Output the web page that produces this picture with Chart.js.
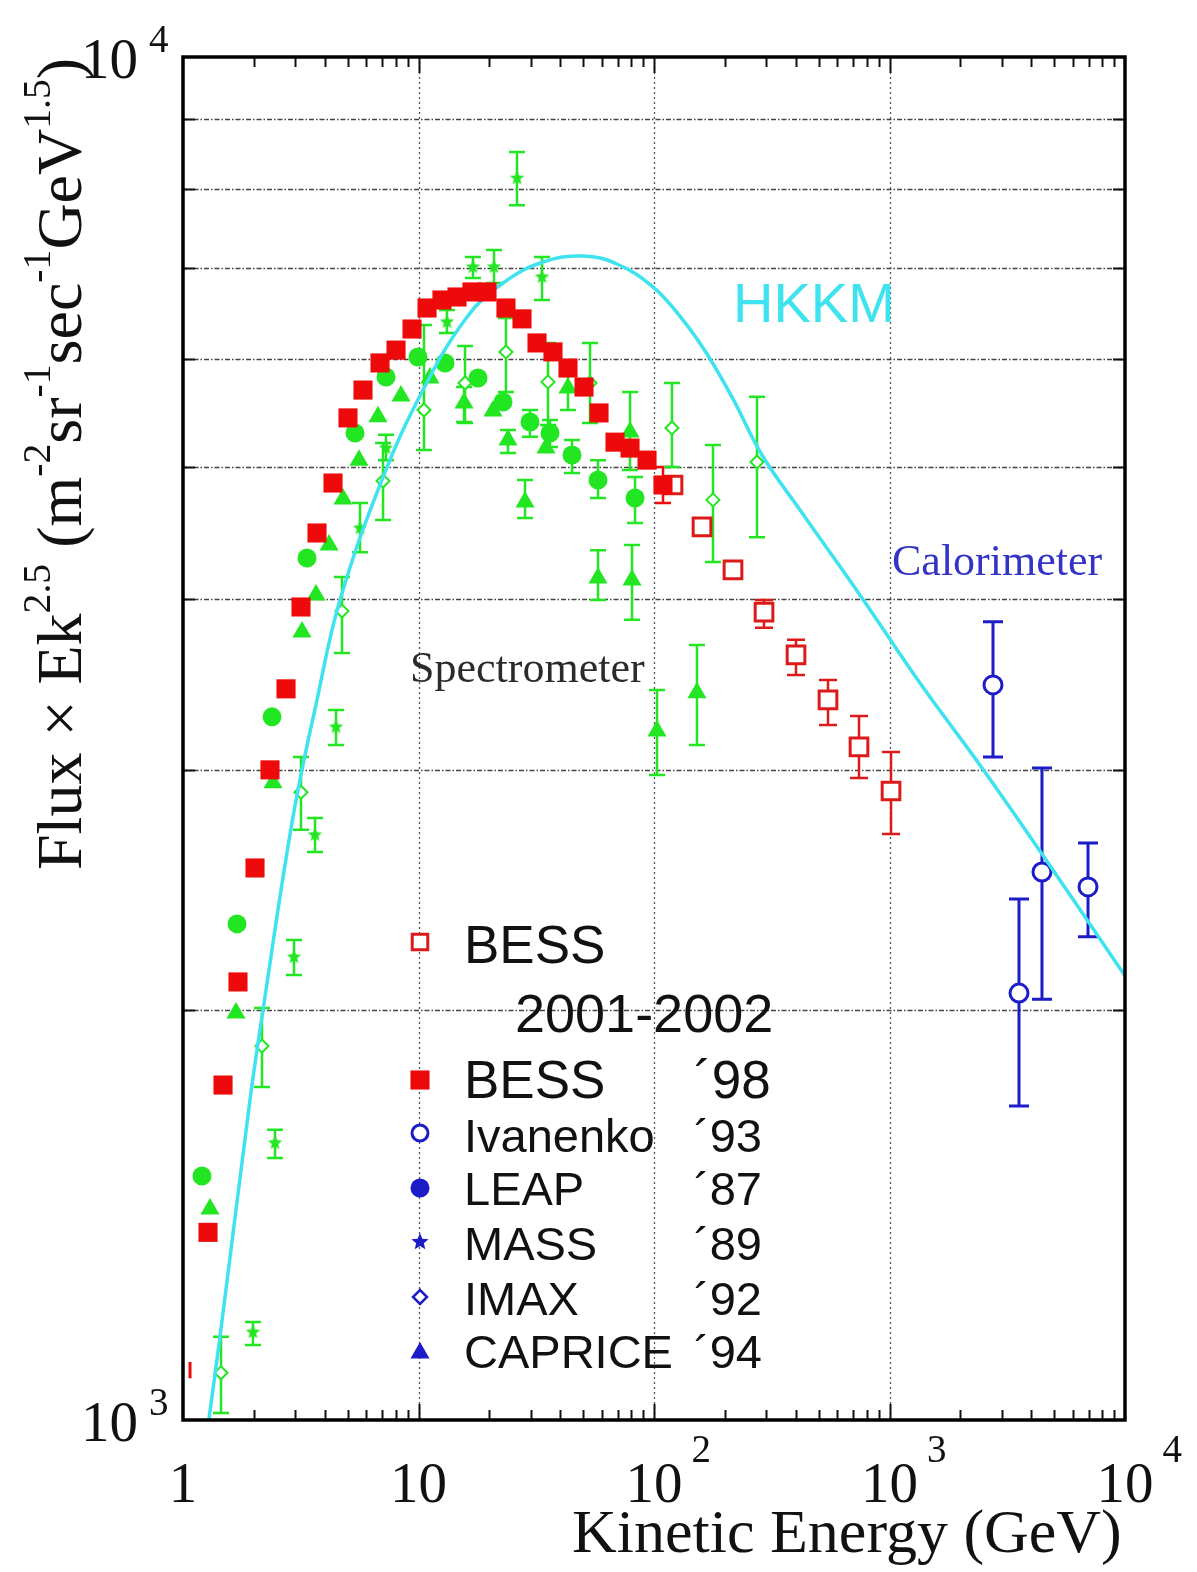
<!DOCTYPE html>
<html><head><meta charset="utf-8">
<script src="https://cdn.jsdelivr.net/npm/chart.js@4.4.1/dist/chart.umd.min.js"></script>
<style>
html,body{margin:0;padding:0;background:#fff;}
#wrap{position:relative;width:1197px;height:1572px;overflow:hidden;background:#fff;}
#c{position:absolute;left:0;top:0;}
.t{position:absolute;white-space:nowrap;line-height:1;}
.serif{font-family:"Liberation Serif","Times New Roman",serif;}
.sans{font-family:"Liberation Sans",Arial,sans-serif;}
.sup{font-size:0.62em;position:relative;top:-0.78em;}
</style></head><body>
<div id="wrap"><canvas id="c" width="1197" height="1572"></canvas></div>
<script>
// ---------------- data ----------------
const xTickValues = [1, 10, 100, 1000, 10000];
const xTickBase   = ['1', '10', '10', '10', '10'];
const xTickExp    = ['', '', '2', '3', '4'];
const yTickValues = [1000, 10000];
const yTickBase   = ['10', '10'];
const yTickExp    = ['3', '4'];
const xGridValues = [10, 100, 1000];
const yGridValues = [2000, 3000, 4000, 5000, 6000, 7000, 8000, 9000];

// HKKM calculation
const hkkmE = [1.289,1.436,1.925,2.186,2.932,3.707,4.642,7.07,10.45,16.07,22.85,33.78,49.95,69.65,99.0,132.8,167.9,216.5,287.4,416.9,764.0,1347,2471,4441,10000];
const hkkmF = [1002,1151,1717,1999,2770,3376,3996,4918,5697,6446,6826,7073,7145,7049,6781,6412,6055,5612,5105,4652,4010,3473,3009,2602,2118];

// BESS '98 (filled squares)
const bess98E = [1.277,1.479,1.712,2.022,2.341,2.738,3.170,3.707,4.335,5.019,5.812,6.864,8.027,9.385,10.87,12.58,14.57,16.87,19.54,23.52,27.51,31.86,37.25,43.13,50.44,58.42,68.30,79.1,93.4,109.2];
const bess98F = [1373,1761,2096,2541,2999,3439,3949,4475,4869,5435,5697,5964,6095,6316,6544,6633,6667,6724,6724,6544,6425,6169,6076,5913,5726,5481,5217,5165,5061,4853];
const bess98Lo = [null,null,null,null,null,null,null,null,null,null,null,null,null,null,null,null,null,null,null,null,null,null,null,null,null,null,null,null,null,4708];
const bess98Hi = [null,null,null,null,null,null,null,null,null,null,null,null,null,null,null,null,null,null,null,null,null,null,null,null,null,null,null,null,null,5003];
const bess98LowE = [1.071];
const bess98LowF = [1088];
const bess98LowLo = [1073];
const bess98LowHi = [1103];

// BESS 2001-2002 (open squares)
const bess01E = [120.4,159.9,216.5,293.2,400.9,548.1,742.1,1015];
const bess01F = [4853,4521,4204,3915,3642,3376,3118,2894];
const bess01Lo = [null,null,4147,3813,3521,3235,2958,2691];
const bess01Hi = [null,null,4261,3996,3736,3491,3285,3091];

// Ivanenko '93 calorimeter (open circles)
const caloE = [2751,3547,4441,6965];
const caloF = [3462,2057,2524,2461];
const caloLo = [3065,1700,2036,2262];
const caloHi = [3851,2411,3009,2651];

// LEAP '87
const leapE = [1.204,1.696,2.388,3.361,5.375,7.278,9.952,12.96,17.89,22.85,29.75,36.18,44.85,57.84,83.07];
const leapF = [1510,2312,3280,4290,5299,5824,6025,5964,5815,5584,5398,5299,5105,4894,4748];
const leapLo = [null,null,null,null,null,null,null,null,null,null,5264,5174,4952,4748,4551];
const leapHi = [null,null,null,null,null,null,null,null,null,null,5508,5416,5236,5061,4918];

// CAPRICE '94
const capE = [1.302,1.679,2.411,3.201,3.671,4.169,4.779,5.589,6.730,8.426,11.19,15.61,20.72,23.99,28.33,34.78,43.13,57.84,79.1,80.67,103.0,152.2];
const capF = [1428,1989,2934,3786,4030,4385,4739,5061,5445,5641,5815,5574,5500,5236,4716,5165,5717,4147,5308,4133,3202,3416];
const capLo = [null,null,null,null,null,null,null,null,null,null,null,5398,null,5122,4590,null,5508,3996,4977,3864,2973,3128];
const capHi = [null,null,null,null,null,null,null,null,null,null,null,5726,null,5325,4894,null,5923,4347,5679,4385,3433,3704];

// MASS '89
const massE = [1.982,2.459,2.960,3.635,4.464,5.645,7.278,13.21,17.03,20.92,26.20,33.45];
const massF = [1160,1597,2186,2687,3224,4512,5165,6392,7014,7014,8149,6896];
const massLo = [1135,1557,2121,2610,3128,4332,5061,6274,6885,6826,7785,6633];
const massHi = [1180,1633,2250,2765,3318,4708,5282,6523,7133,7218,8517,7133];

// IMAX '92
const imaxE = [1.450,2.165,3.170,4.733,7.07,10.55,15.76,23.52,35.47,53.48,119.2,178.0,273.8];
const imaxF = [1083,1881,2888,3922,4885,5508,5765,6076,5776,5765,5344,4732,5045];
const imaxLo = [1012,1755,2710,3654,4574,5148,5389,5679,5370,5389,5003,4261,4443];
const imaxHi = [1151,2006,3065,4154,5209,6359,6138,6435,6169,6169,5765,5191,5632];

// legend
const legendNames = ['BESS','BESS','Ivanenko','LEAP','MASS','IMAX','CAPRICE'];
const legendYears = ['','\u00B498','\u00B493','\u00B487','\u00B489','\u00B492','\u00B494'];
const legendSubLine = '2001-2002';

// ---------------- styles ----------------
const RED = '#ee0a0a', RED2 = '#dd1a1a', GREEN = '#22e622', BLUE = '#1c1cc8', CYAN = '#3fe2ef';
const SERIF = '"Liberation Serif","Times New Roman",serif';
const SANS = '"Liberation Sans",Arial,sans-serif';
const wrap = document.getElementById('wrap');

function makeStar(color, r){
  const s = Math.ceil(2*r+2), c = document.createElement('canvas');
  c.width = s; c.height = s;
  const g = c.getContext('2d'); g.fillStyle = color; g.beginPath();
  for(let k=0;k<10;k++){ const rr = k%2 ? r*0.45 : r; const a = -Math.PI/2 + k*Math.PI/5;
    g.lineTo(s/2 + rr*Math.cos(a), s/2 + rr*Math.sin(a)); }
  g.closePath(); g.fill(); return c;
}
const starGreen = makeStar(GREEN, 7.5);
const starBlue = makeStar(BLUE, 9);

const mk = (E,F) => E.map((e,i) => ({x:e, y:F[i]}));

function addText(html, cls, size, left, baseline, color){
  const k = cls==='serif' ? 0.8374 : 0.8467;
  const d = document.createElement('div');
  d.className = 't ' + cls; d.style.fontSize = size+'px';
  d.style.left = left+'px'; d.style.top = (baseline - k*size)+'px';
  d.style.color = color; d.innerHTML = html; wrap.appendChild(d); return d;
}

function drawMarker(ctx, style, x, y, r, fill, stroke, lw){
  ctx.save(); ctx.setLineDash([]);
  if (style && typeof style === 'object') { ctx.drawImage(style, x-style.width/2, y-style.height/2); ctx.restore(); return; }
  ctx.beginPath();
  if (style==='rect'){ const s=r*Math.SQRT1_2; ctx.rect(x-s,y-s,2*s,2*s); }
  else if (style==='rectRot'){ ctx.moveTo(x,y-r); ctx.lineTo(x+r,y); ctx.lineTo(x,y+r); ctx.lineTo(x-r,y); ctx.closePath(); }
  else if (style==='triangle'){ ctx.moveTo(x,y-r); ctx.lineTo(x+0.866*r,y+0.5*r); ctx.lineTo(x-0.866*r,y+0.5*r); ctx.closePath(); }
  else { ctx.arc(x,y,r,0,Math.PI*2); }
  if (fill){ ctx.fillStyle=fill; ctx.fill(); }
  if (stroke){ ctx.strokeStyle=stroke; ctx.lineWidth=lw; ctx.stroke(); }
  ctx.restore();
}

// ---------------- plugins ----------------
const gridPlugin = {id:'gridP', beforeDatasetsDraw(chart){
  const {ctx, chartArea:a, scales:{x,y}} = chart;
  ctx.save();
  ctx.lineWidth = 1.4; ctx.strokeStyle = '#444'; ctx.setLineDash([5,2,1.5,2]);
  yGridValues.forEach(v => { const py = Math.round(y.getPixelForValue(v))+0.5;
    ctx.beginPath(); ctx.moveTo(a.left,py); ctx.lineTo(a.right,py); ctx.stroke(); });
  ctx.lineWidth = 1.3; ctx.strokeStyle = '#555'; ctx.setLineDash([2,3]);
  xGridValues.forEach(v => { const px = Math.round(x.getPixelForValue(v))+0.5;
    ctx.beginPath(); ctx.moveTo(px,a.top); ctx.lineTo(px,a.bottom); ctx.stroke(); });
  ctx.restore();
}};

const errPlugin = {id:'errP', beforeDatasetsDraw(chart){
  const {ctx, chartArea:a, scales:{x,y}} = chart;
  ctx.save(); ctx.beginPath(); ctx.rect(a.left,a.top,a.right-a.left,a.bottom-a.top); ctx.clip();
  ctx.setLineDash([]);
  chart.data.datasets.forEach(ds => {
    if (!ds.errLo) return;
    ctx.strokeStyle = ds.errColor; ctx.lineWidth = ds.errWidth;
    ds.data.forEach((p,i) => {
      const lo = ds.errLo[i], hi = ds.errHi[i];
      if (lo==null || hi==null) return;
      const px = x.getPixelForValue(p.x), pl = y.getPixelForValue(lo), ph = y.getPixelForValue(hi), c = ds.errCap;
      ctx.beginPath(); ctx.moveTo(px,pl); ctx.lineTo(px,ph);
      if (c>0){ ctx.moveTo(px-c,pl); ctx.lineTo(px+c,pl); ctx.moveTo(px-c,ph); ctx.lineTo(px+c,ph); }
      ctx.stroke();
    });
  });
  ctx.restore();
}};

const framePlugin = {id:'frameP', afterDatasetsDraw(chart){
  const {ctx, chartArea:a, scales:{x,y}} = chart;
  ctx.save(); ctx.setLineDash([]); ctx.strokeStyle = '#111'; ctx.lineWidth = 2;
  for (let d=1; d<10000; d*=10){
    for (let m=2; m<=9; m++){
      const px = Math.round(x.getPixelForValue(d*m))+0.5;
      ctx.beginPath(); ctx.moveTo(px,a.bottom); ctx.lineTo(px,a.bottom-10);
      ctx.moveTo(px,a.top); ctx.lineTo(px,a.top+10); ctx.stroke();
    }
  }
  xGridValues.forEach(v => { const px = Math.round(x.getPixelForValue(v))+0.5;
    ctx.beginPath(); ctx.moveTo(px,a.bottom); ctx.lineTo(px,a.bottom-16);
    ctx.moveTo(px,a.top); ctx.lineTo(px,a.top+16); ctx.stroke(); });
  yGridValues.forEach(v => { const py = Math.round(y.getPixelForValue(v))+0.5;
    ctx.beginPath(); ctx.moveTo(a.left,py); ctx.lineTo(a.left+12,py);
    ctx.moveTo(a.right,py); ctx.lineTo(a.right-12,py); ctx.stroke(); });
  ctx.lineWidth = 3.5; ctx.strokeStyle = '#000';
  ctx.strokeRect(a.left, a.top, a.right-a.left, a.bottom-a.top);
  ctx.restore();
}};

const legendMarkY = [942,1080,1133,1188,1242,1297,1353];
const legendMarkStyle = [
  ['rect',11,'#fff',RED2,3],
  ['rect',13.5,RED,null,0],
  ['circle',8,'#fff',BLUE,3],
  ['circle',9.5,BLUE,null,0],
  [starBlue,0,null,null,0],
  ['rectRot',7,'#fff',BLUE,2.5],
  ['triangle',11,BLUE,null,0]
];
const legendPlugin = {id:'legendP', afterDraw(chart){
  const ctx = chart.ctx;
  legendMarkStyle.forEach((s,i) => drawMarker(ctx, s[0], 420, legendMarkY[i], s[1], s[2], s[3], s[4]));
}};

let labelsDone = false;
const labelPlugin = {id:'labelP', afterDraw(chart){
  if (labelsDone) return; labelsDone = true;
  const {ctx, scales:{x,y}} = chart;
  ctx.save();
  ctx.font = '57px ' + SERIF;
  xTickValues.forEach((v,i) => {
    const px = x.getPixelForValue(v), w = ctx.measureText(xTickBase[i]).width;
    addText(xTickBase[i], 'serif', 57, px - w/2, 1502, '#111');
    if (xTickExp[i]) addText(xTickExp[i], 'serif', 39, px + w/2 + 9, 1462, '#111');
  });
  yTickValues.forEach((v,i) => {
    const py = y.getPixelForValue(v), w = ctx.measureText(yTickBase[i]).width;
    addText(yTickBase[i], 'serif', 57, 138 - w, py + 21, '#111');
    addText(yTickExp[i], 'serif', 39, 149, py - 5, '#111');
  });
  ctx.restore();
}};

// ---------------- chart ----------------
new Chart(document.getElementById('c'), {
  type: 'scatter',
  data: { datasets: [
    {label:'BESS \u00B498', data:mk(bess98E,bess98F), pointStyle:'rect', pointRadius:13.5, backgroundColor:RED, borderWidth:0, order:0,
     errLo:bess98Lo, errHi:bess98Hi, errColor:RED, errWidth:2.5, errCap:8},
    {label:'BESS \u00B498 low', data:mk(bess98LowE,bess98LowF), pointRadius:0, order:0,
     errLo:bess98LowLo, errHi:bess98LowHi, errColor:RED, errWidth:3, errCap:0},
    {label:'HKKM', data:mk(hkkmE,hkkmF), showLine:true, borderColor:CYAN, borderWidth:3.5, pointRadius:0, fill:false,
     tension:0.4, order:1},
    {label:'BESS 2001-2002', data:mk(bess01E,bess01F), pointStyle:'rect', pointRadius:12.5, backgroundColor:'#fff', borderColor:RED2, borderWidth:3, order:2,
     errLo:bess01Lo, errHi:bess01Hi, errColor:RED2, errWidth:2.5, errCap:9},
    {label:'Ivanenko \u00B493', data:mk(caloE,caloF), pointStyle:'circle', pointRadius:9, backgroundColor:'#fff', borderColor:BLUE, borderWidth:3, order:2,
     errLo:caloLo, errHi:caloHi, errColor:BLUE, errWidth:3, errCap:10},
    {label:'IMAX \u00B492', data:mk(imaxE,imaxF), pointStyle:'rectRot', pointRadius:6.5, backgroundColor:'#fff', borderColor:GREEN, borderWidth:2, order:5,
     errLo:imaxLo, errHi:imaxHi, errColor:GREEN, errWidth:2.5, errCap:8},
    {label:'MASS \u00B489', data:mk(massE,massF), pointStyle:starGreen, pointRadius:8, order:4,
     errLo:massLo, errHi:massHi, errColor:GREEN, errWidth:2.5, errCap:8},
    {label:'CAPRICE \u00B494', data:mk(capE,capF), pointStyle:'triangle', pointRadius:11, backgroundColor:GREEN, borderWidth:0, order:3,
     errLo:capLo, errHi:capHi, errColor:GREEN, errWidth:2.5, errCap:8},
    {label:'LEAP \u00B487', data:mk(leapE,leapF), pointStyle:'circle', pointRadius:9.5, backgroundColor:GREEN, borderWidth:0, order:3,
     errLo:leapLo, errHi:leapHi, errColor:GREEN, errWidth:2.5, errCap:8}
  ]},
  options: {
    responsive:false, animation:false, devicePixelRatio:1, events:[],
    layout:{padding:{left:183, right:72, top:57, bottom:152}},
    plugins:{legend:{display:false}, tooltip:{enabled:false}},
    scales:{
      x:{type:'logarithmic', min:1, max:10000, display:false},
      y:{type:'logarithmic', min:1000, max:10000, display:false}
    }
  },
  plugins:[gridPlugin, errPlugin, framePlugin, legendPlugin, labelPlugin]
});

// ---------------- static texts ----------------
addText('HKKM', 'sans', 56, 733, 322, CYAN);
addText('Calorimeter', 'serif', 44, 892, 576, '#3434c4');
addText('Spectrometer', 'serif', 44, 410, 683, '#2b2b2b');
const legBase = [963,1098,1152,1205,1260,1315,1368];
const legSize = [53,53,47,47,47,47,47];
legendNames.forEach((n,i) => {
  addText(n, 'sans', legSize[i], 464, legBase[i], '#111');
  if (legendYears[i]) addText(legendYears[i], 'sans', legSize[i], 694, legBase[i], '#111');
});
addText(legendSubLine, 'sans', 54, 515, 1032, '#111');
addText('Kinetic Energy (GeV)', 'serif', 62, 572, 1552, '#111');
const yt = addText('Flux \u00D7 Ek<span class="sup">2.5</span> (m<span class="sup">-2</span>sr<span class="sup">-1</span>sec<span class="sup">-1</span>GeV<span class="sup">1.5</span>)', 'serif', 64, 28, 0, '#111');
yt.style.top = '870px';
yt.style.transformOrigin = '0 0';
yt.style.transform = 'rotate(-90deg)';
</script>
</body></html>
